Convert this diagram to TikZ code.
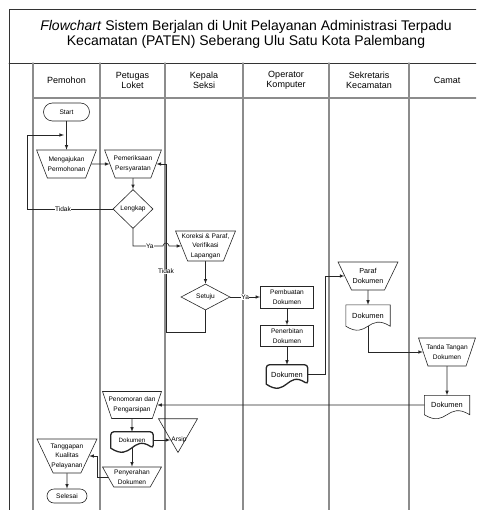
\documentclass[tikz,border=0pt]{standalone}
\usepackage{fontspec}
\setmainfont{Liberation Sans}
\usepackage{tikz}
\usetikzlibrary{shapes.geometric, calc}

\begin{document}
\begin{tikzpicture}
		[x=1pt,y=-1pt,line cap=round,>=latex,
		%Styles
		frame line/.style={draw=black!80,line width=.8pt},
		lane/.style={draw=lanecolor,line width=1.1pt},
		flow/.style={draw=linecolor,line width=.6pt},
		txt/.style={font=\fontsize{6.6}{9.5}\selectfont,align=center,inner sep=1pt},
		box/.style={txt,flow},
		header/.style={font=\fontsize{9}{9.5}\selectfont,align=center},
		terminal/.style={box,rounded corners=7pt,minimum width=40,minimum height=14},
		manual/.style={box,trapezium,trapezium stretches=true,shape border rotate=180,
			trapezium left angle=66,trapezium right angle=66,inner xsep=-6pt,
			minimum width=60,minimum height=28},
		process/.style={box,minimum width=53,minimum height=22},
		decision/.style={box,diamond,inner sep=0pt},
		docshape/.style={txt,font=\fontsize{7.4}{9}\selectfont,minimum width=44,minimum height=20},
		lbl/.style={fill=white,inner sep=.4pt,font=\fontsize{6.6}{8}\selectfont},
		arr/.style={flow,->}
		]
		
		%Colors
		\colorlet{linecolor}{black!85}	%shapes and connectors
		\colorlet{lanecolor}{black!45}	%swimlanes
		
		%The graphic
		\useasboundingbox (0,0) rectangle (476,510);
		\clip (0,0) rectangle (476,510);
		
		\draw[frame line] (9,520) |- (483,9) -- (483,520);
		\draw[frame line] (9,63) -- (483,63);
		\foreach \x in {33,100,165,243,329,409}
			\draw[lane] (\x,63) -- (\x,520);
		\draw[lane] (33,98) -- (483,98);
		
		\node[font=\fontsize{14}{15}\selectfont,align=center] (title) at (246,34)
			{\textit{Flowchart} Sistem Berjalan di Unit Pelayanan Administrasi Terpadu\\
			Kecamatan (PATEN) Seberang Ulu Satu Kota Palembang};
		
		\node[header] (pemohon) at (66.5,80.5) {Pemohon};
		\node[header] (petugas) at (132.5,80.5) {Petugas\\Loket};
		\node[header] (kepala) at (204,80.5) {Kepala\\Seksi};
		\node[header] (operator) at (286,80.5) {Operator\\Komputer};
		\node[header] (sekretaris) at (369,80.5) {Sekretaris\\Kecamatan};
		\node[header] (camat) at (447,80.5) {Camat};
		
		\node[terminal,minimum width=46,minimum height=18,rounded corners=9pt] (start) at (66.5,112) {Start};
		\node[manual] (ajukan) at (66.5,164) {Mengajukan\\Permohonan};
		\node[manual,minimum width=57] (periksa) at (133,164) {Pemeriksaan\\Persyaratan};
		\node[decision,minimum width=40,minimum height=39] (lengkap) at (133,209) {Lengkap};
		\node[manual,minimum height=30] (koreksi) at (205.5,246) {Koreksi \& Paraf,\\Verifikasi\\Lapangan};
		\node[decision,aspect=1.8,minimum width=49,minimum height=26] (setuju) at (205.5,297) {Setuju};
		\node[process] (buat) at (287,297) {Pembuatan\\Dokumen};
		\node[process,minimum height=21] (terbit) at (287,336) {Penerbitan\\Dokumen};
		\node[docshape,minimum width=41,minimum height=19] (dokA) at (287,374.5) {Dokumen};
		\node[manual,font=\fontsize{7.2}{10}\selectfont] (paraf) at (368,276) {Paraf\\Dokumen};
		\node[docshape,minimum height=21] (dokB) at (368,315.5) {Dokumen};
		\node[manual,minimum width=57] (ttd) at (447,352) {Tanda Tangan\\Dokumen};
		\node[docshape,minimum width=45,minimum height=19] (dokC) at (447,405) {Dokumen};
		\node[manual,minimum width=59,minimum height=27] (nomor) at (132,405) {Penomoran dan\\Pengarsipan};
		\node[docshape,font=\fontsize{6.2}{8}\selectfont,minimum width=42,minimum height=16] (dokD) at (132,440) {Dokumen};
		\node[flow,regular polygon,regular polygon sides=3,shape border rotate=180,minimum size=45,inner sep=0pt] (arsipTri) at (178,430) {};
		\node[txt] (arsip) at (179,440) {Arsip};
		\node[manual,minimum width=59,minimum height=20] (serah) at (132,477) {Penyerahan\\Dokumen};
		\node[manual,minimum height=34] (tanggap) at (67,456) {Tanggapan\\Kualitas\\Pelayanan};
		\node[terminal] (selesai) at (67,496) {Selesai};
		
		%document outlines
		\foreach \d in {dokB,dokC}
			\draw[flow] (\d.south west) -- (\d.north west) -- (\d.north east) -- (\d.south east)
				.. controls ($(\d.south)+(0,-14)$) and ($(\d.south)+(0,14)$) .. (\d.south west);
		\foreach \d in {dokA,dokD}
			\draw[flow,line width=1.3pt,rounded corners=3pt] (\d.south west) -- (\d.north west) -- (\d.north east) -- (\d.south east)
				.. controls ($(\d.south)+(0,-14)$) and ($(\d.south)+(0,14)$) .. (\d.south west);
		
		%Connectors
		\coordinate (loopA) at (27,135);
		\coordinate (loopB) at (64,135);
		\coordinate (hop) at (166,246);
		\coordinate (tidakB) at (166,332);
		
		\draw[arr] (start.south) -- (ajukan.north);
		\draw[arr] (ajukan.east) -- (periksa.west);
		\draw[arr] (periksa.south) -- (lengkap.north);
		\draw[arr] (lengkap.west) -| node[lbl,pos=.29]{Tidak} (loopA) -- (loopB);
		\draw[arr] (lengkap.south) |- node[lbl,pos=.78]{Ya} ([xshift=-3pt]hop)
			arc[start angle=180,end angle=360,radius=3] -- (koreksi.west);
		\draw[arr] (koreksi.south) -- (setuju.north);
		\draw[arr] (setuju.east) -- node[lbl]{Ya} (buat.west);
		\draw[arr] (setuju.south) |- (tidakB) |- node[lbl,pos=.18]{Tidak} (periksa.east);
		\draw[arr] (buat) -- (terbit);
		\draw[arr] (terbit) -- (dokA);
		\draw[arr] (dokA.east) -- ++(18,0) |- (paraf.west);
		\draw[arr] (paraf) -- (dokB);
		\draw[arr] (dokB.south) |- (ttd.west);
		\draw[arr] (ttd) -- (dokC);
		\draw[arr] (dokC.west) -- (nomor.east);
		\draw[arr] (nomor) -- (dokD);
		\draw[arr] (dokD.east) -- (arsip.west);
		\draw[arr] (dokD) -- (serah);
		\draw[arr] (serah.west) -- ++(-10,0) |- (tanggap.east);
		\draw[arr] (tanggap) -- (selesai);
	\end{tikzpicture}
\end{document}
